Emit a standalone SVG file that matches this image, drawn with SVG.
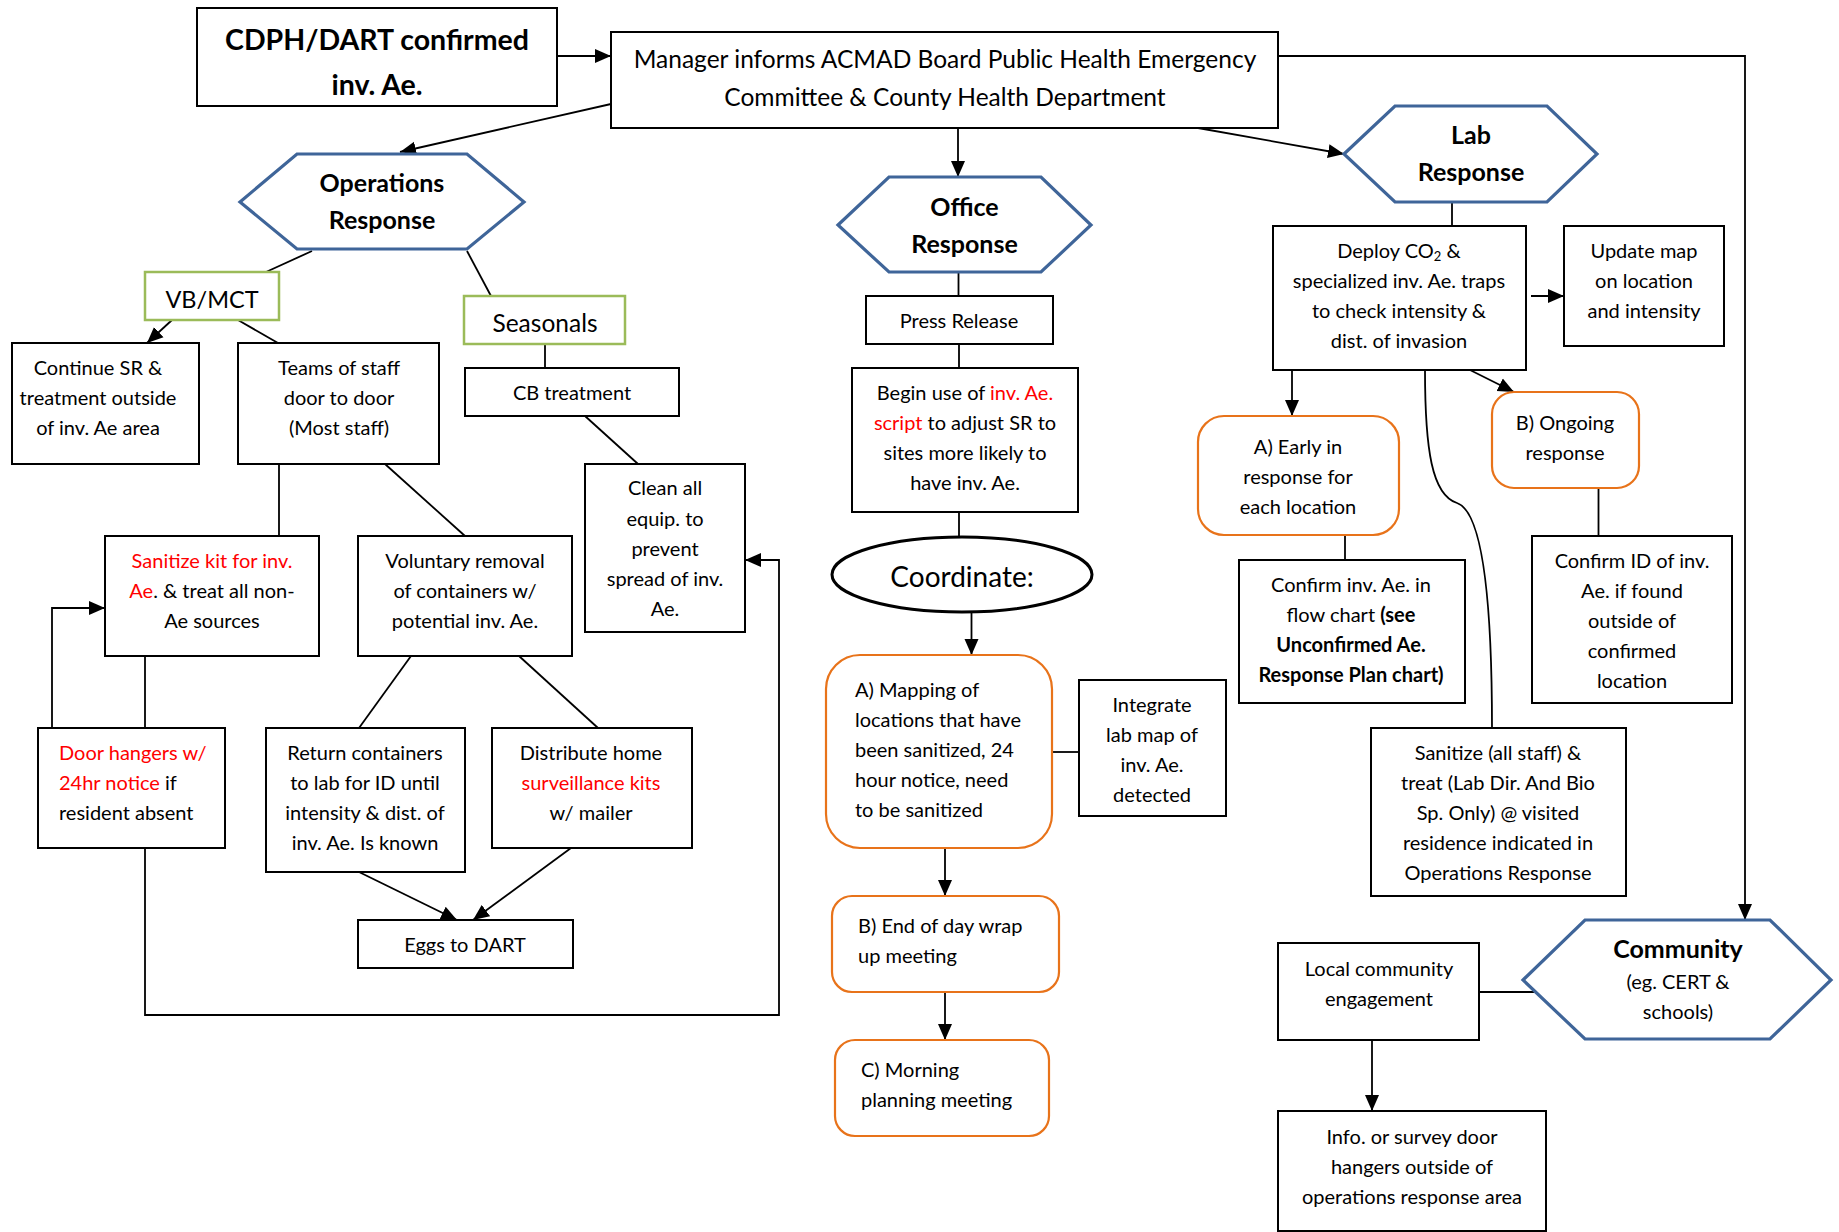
<svg xmlns="http://www.w3.org/2000/svg" width="1839" height="1232" viewBox="0 0 1839 1232">
<defs>
<style>
.bx{fill:#fff;stroke:#000;stroke-width:2}
.gr{fill:#fff;stroke:#9BBB59;stroke-width:2.5}
.or{fill:#fff;stroke:#E8731A;stroke-width:2.2}
.hx{fill:#fff;stroke:#3F6599;stroke-width:3.2;stroke-linejoin:miter}
.el{fill:#fff;stroke:#000;stroke-width:3}
.ln{fill:none;stroke:#000;stroke-width:1.8}
text{font-family:Lato,"Open Sans","Liberation Sans",sans-serif;fill:#000;font-size:20px}
.c{text-anchor:middle}
.b{font-weight:bold}
.r{fill:#FF0000}
.h{font-size:25px;font-weight:bold}
.big{font-size:28.5px;font-weight:bold}
.mg{font-size:24.5px}
</style>
<marker id="arr" markerUnits="userSpaceOnUse" markerWidth="16" markerHeight="16" viewBox="0 0 16 16" refX="16" refY="8" orient="auto"><path d="M0,1 L16,8 L0,15 z" fill="#000"/></marker>
</defs>
<rect width="1839" height="1232" fill="#fff"/>

<g id="connectors">
<path class="ln" d="M557,56 L611,56" marker-end="url(#arr)"/>
<path class="ln" d="M611,104 L400,152" marker-end="url(#arr)"/>
<path class="ln" d="M958,128 L958,177" marker-end="url(#arr)"/>
<path class="ln" d="M1198,128 L1344,154" marker-end="url(#arr)"/>
<path class="ln" d="M1278,56 L1745,56 L1745,920" marker-end="url(#arr)"/>
<path class="ln" d="M312,251 L266,272"/>
<path class="ln" d="M467,251 L491,296"/>
<path class="ln" d="M172,320 L147,343" marker-end="url(#arr)"/>
<path class="ln" d="M238,320 L278,343"/>
<path class="ln" d="M279,464 L279,536"/>
<path class="ln" d="M385,464 L465,536"/>
<path class="ln" d="M145,656 L145,728"/>
<path class="ln" d="M52,728 L52,608 L105,608" marker-end="url(#arr)"/>
<path class="ln" d="M145,848 L145,1015 L779,1015 L779,560 L745,560" marker-end="url(#arr)"/>
<path class="ln" d="M411,656 L359,728"/>
<path class="ln" d="M519,656 L598,728"/>
<path class="ln" d="M359,872 L457,920" marker-end="url(#arr)"/>
<path class="ln" d="M571,848 L473,920" marker-end="url(#arr)"/>
<path class="ln" d="M545,344 L545,368"/>
<path class="ln" d="M585,416 L638,464"/>
<path class="ln" d="M958.5,272 L958.5,296"/>
<path class="ln" d="M959,344 L959,368"/>
<path class="ln" d="M959,512 L959,537"/>
<path class="ln" d="M971.5,612 L971.5,655" marker-end="url(#arr)"/>
<path class="ln" d="M1052,752 L1079,752"/>
<path class="ln" d="M945,848 L945,896" marker-end="url(#arr)"/>
<path class="ln" d="M945,992 L945,1040" marker-end="url(#arr)"/>
<path class="ln" d="M1452,202 L1452,226"/>
<path class="ln" d="M1531,296 L1564,296" marker-end="url(#arr)"/>
<path class="ln" d="M1292,370 L1292,416" marker-end="url(#arr)"/>
<path class="ln" d="M1466,368 L1514,392" marker-end="url(#arr)"/>
<path class="ln" d="M1345,535 L1345,560"/>
<path class="ln" d="M1598.5,488 L1598.5,536"/>
<path class="ln" d="M1425,370 C1425,450 1432,495 1457,503 C1478,510 1492,570 1492,728"/>
<path class="ln" d="M1479,992 L1534,992"/>
<path class="ln" d="M1372,1040 L1372,1111" marker-end="url(#arr)"/>
</g>

<g id="cdph">
<rect class="bx" x="197" y="8" width="360" height="98"/>
<text class="big c" x="377" y="50">CDPH/DART confirmed</text>
<text class="big c" x="377" y="95">inv. Ae.</text>
</g>

<g id="manager">
<rect class="bx" x="611" y="32" width="667" height="96"/>
<text class="mg c" x="945" y="68">Manager informs ACMAD Board Public Health Emergency</text>
<text class="mg c" x="945" y="106">Committee &amp; County Health Department</text>
</g>

<g id="operations">
<polygon class="hx" points="240,202 297,154 467,154 524,202 467,249 297,249"/>
<text class="h c" x="382" y="192">Operations</text>
<text class="h c" x="382" y="229">Response</text>
</g>

<g id="vbmct">
<rect class="gr" x="145" y="272" width="134" height="48"/>
<text class="c" x="212" y="308" style="font-size:23.5px">VB/MCT</text>
</g>

<g id="seasonals">
<rect class="gr" x="464" y="296" width="161" height="48"/>
<text class="c" x="545" y="332" style="font-size:24.5px">Seasonals</text>
</g>

<g id="continue-sr">
<rect class="bx" x="12" y="343" width="187" height="121"/>
<text class="c" x="98" y="375">Continue SR &amp;</text>
<text class="c" x="98" y="405">treatment outside</text>
<text class="c" x="98" y="435">of inv. Ae area</text>
</g>

<g id="teams">
<rect class="bx" x="238" y="343" width="201" height="121"/>
<text class="c" x="339" y="375">Teams of staff</text>
<text class="c" x="339" y="405">door to door</text>
<text class="c" x="339" y="435">(Most staff)</text>
</g>

<g id="cb-treatment">
<rect class="bx" x="465" y="368" width="214" height="48"/>
<text class="c" x="572" y="400">CB treatment</text>
</g>

<g id="clean-all">
<rect class="bx" x="585" y="464" width="160" height="168"/>
<text class="c" x="665" y="495">Clean all</text>
<text class="c" x="665" y="526">equip. to</text>
<text class="c" x="665" y="556">prevent</text>
<text class="c" x="665" y="586">spread of inv.</text>
<text class="c" x="665" y="616">Ae.</text>
</g>

<g id="sanitize-kit">
<rect class="bx" x="105" y="536" width="214" height="120"/>
<text class="c r" x="212" y="568">Sanitize kit for inv.</text>
<text class="c" x="212" y="598"><tspan class="r">Ae</tspan>. &amp; treat all non-</text>
<text class="c" x="212" y="628">Ae sources</text>
</g>

<g id="voluntary">
<rect class="bx" x="358" y="536" width="214" height="120"/>
<text class="c" x="465" y="568">Voluntary removal</text>
<text class="c" x="465" y="598">of containers w/</text>
<text class="c" x="465" y="628">potential inv. Ae.</text>
</g>

<g id="door-hangers">
<rect class="bx" x="38" y="728" width="187" height="120"/>
<text class="r" x="59" y="760">Door hangers w/</text>
<text x="59" y="790"><tspan class="r">24hr notice</tspan> if</text>
<text x="59" y="820">resident absent</text>
</g>

<g id="return-containers">
<rect class="bx" x="266" y="728" width="199" height="144"/>
<text class="c" x="365" y="760">Return containers</text>
<text class="c" x="365" y="790">to lab for ID until</text>
<text class="c" x="365" y="820">intensity &amp; dist. of</text>
<text class="c" x="365" y="850">inv. Ae. Is known</text>
</g>

<g id="distribute">
<rect class="bx" x="492" y="728" width="200" height="120"/>
<text class="c" x="591" y="760">Distribute home</text>
<text class="c r" x="591" y="790">surveillance kits</text>
<text class="c" x="591" y="820">w/ mailer</text>
</g>

<g id="eggs">
<rect class="bx" x="358" y="920" width="215" height="48"/>
<text class="c" x="465" y="952">Eggs to DART</text>
</g>

<g id="office">
<polygon class="hx" points="838,225 889,177 1041,177 1091,225 1041,272 889,272"/>
<text class="h c" x="964.5" y="216">Office</text>
<text class="h c" x="964.5" y="253">Response</text>
</g>

<g id="press-release">
<rect class="bx" x="866" y="296" width="187" height="48"/>
<text class="c" x="959" y="328">Press Release</text>
</g>

<g id="begin-use">
<rect class="bx" x="852" y="368" width="226" height="144"/>
<text class="c" x="965" y="400">Begin use of <tspan class="r">inv. Ae.</tspan></text>
<text class="c" x="965" y="430"><tspan class="r">script</tspan> to adjust SR to</text>
<text class="c" x="965" y="460">sites more likely to</text>
<text class="c" x="965" y="490">have inv. Ae.</text>
</g>

<g id="coordinate">
<ellipse class="el" cx="962" cy="574.5" rx="130" ry="37.5"/>
<text class="c" x="962" y="587" style="font-size:28px">Coordinate:</text>
</g>

<g id="mapping">
<rect class="or" x="826" y="655" width="226" height="193" rx="34" ry="34"/>
<text x="855" y="697">A) Mapping of</text>
<text x="855" y="727">locations that have</text>
<text x="855" y="757">been sanitized, 24</text>
<text x="855" y="787">hour notice, need</text>
<text x="855" y="817">to be sanitized</text>
</g>

<g id="integrate">
<rect class="bx" x="1079" y="680" width="147" height="136"/>
<text class="c" x="1152" y="712">Integrate</text>
<text class="c" x="1152" y="742">lab map of</text>
<text class="c" x="1152" y="772">inv. Ae.</text>
<text class="c" x="1152" y="802">detected</text>
</g>

<g id="end-of-day">
<rect class="or" x="832" y="896" width="227" height="96" rx="20" ry="20"/>
<text x="858" y="933">B) End of day wrap</text>
<text x="858" y="963">up meeting</text>
</g>

<g id="morning">
<rect class="or" x="835" y="1040" width="214" height="96" rx="20" ry="20"/>
<text x="861" y="1077">C) Morning</text>
<text x="861" y="1107">planning meeting</text>
</g>

<g id="lab">
<polygon class="hx" points="1344,154 1395,106 1547,106 1597,154 1547,202 1395,202"/>
<text class="h c" x="1471" y="144">Lab</text>
<text class="h c" x="1471" y="181">Response</text>
</g>

<g id="deploy">
<rect class="bx" x="1273" y="226" width="253" height="144"/>
<text class="c" x="1399" y="258">Deploy CO<tspan style="font-size:13px" dy="3">2</tspan><tspan dy="-3"> &amp;</tspan></text>
<text class="c" x="1399" y="288">specialized inv. Ae. traps</text>
<text class="c" x="1399" y="318">to check intensity &amp;</text>
<text class="c" x="1399" y="348">dist. of invasion</text>
</g>

<g id="update-map">
<rect class="bx" x="1564" y="226" width="160" height="120"/>
<text class="c" x="1644" y="258">Update map</text>
<text class="c" x="1644" y="288">on location</text>
<text class="c" x="1644" y="318">and intensity</text>
</g>

<g id="early">
<rect class="or" x="1198" y="416" width="201" height="119" rx="26" ry="26"/>
<text class="c" x="1298" y="454">A) Early in</text>
<text class="c" x="1298" y="484">response for</text>
<text class="c" x="1298" y="514">each location</text>
</g>

<g id="ongoing">
<rect class="or" x="1492" y="392" width="147" height="96" rx="22" ry="22"/>
<text class="c" x="1565" y="430">B) Ongoing</text>
<text class="c" x="1565" y="460">response</text>
</g>

<g id="confirm-inv">
<rect class="bx" x="1239" y="560" width="226" height="143"/>
<text class="c" x="1351" y="592">Confirm inv. Ae. in</text>
<text class="c" x="1351" y="622">flow chart <tspan class="b">(see</tspan></text>
<text class="c b" x="1351" y="652">Unconfirmed Ae.</text>
<text class="c b" x="1351" y="682">Response Plan chart)</text>
</g>

<g id="confirm-id">
<rect class="bx" x="1532" y="536" width="200" height="167"/>
<text class="c" x="1632" y="568">Confirm ID of inv.</text>
<text class="c" x="1632" y="598">Ae. if found</text>
<text class="c" x="1632" y="628">outside of</text>
<text class="c" x="1632" y="658">confirmed</text>
<text class="c" x="1632" y="688">location</text>
</g>

<g id="sanitize-all">
<rect class="bx" x="1371" y="728" width="255" height="168"/>
<text class="c" x="1498" y="760">Sanitize (all staff) &amp;</text>
<text class="c" x="1498" y="790">treat (Lab Dir. And Bio</text>
<text class="c" x="1498" y="820">Sp. Only) @ visited</text>
<text class="c" x="1498" y="850">residence indicated in</text>
<text class="c" x="1498" y="880">Operations Response</text>
</g>

<g id="community">
<polygon class="hx" points="1523,980 1585,920 1770,920 1831,980 1770,1039 1585,1039"/>
<text class="h c" x="1678" y="958">Community</text>
<text class="c" x="1678" y="989">(eg. CERT &amp;</text>
<text class="c" x="1678" y="1019">schools)</text>
</g>

<g id="local-community">
<rect class="bx" x="1278" y="943" width="201" height="97"/>
<text class="c" x="1379" y="976">Local community</text>
<text class="c" x="1379" y="1006">engagement</text>
</g>

<g id="info-hangers">
<rect class="bx" x="1278" y="1111" width="268" height="120"/>
<text class="c" x="1412" y="1144">Info. or survey door</text>
<text class="c" x="1412" y="1174">hangers outside of</text>
<text class="c" x="1412" y="1204">operations response area</text>
</g>
</svg>
